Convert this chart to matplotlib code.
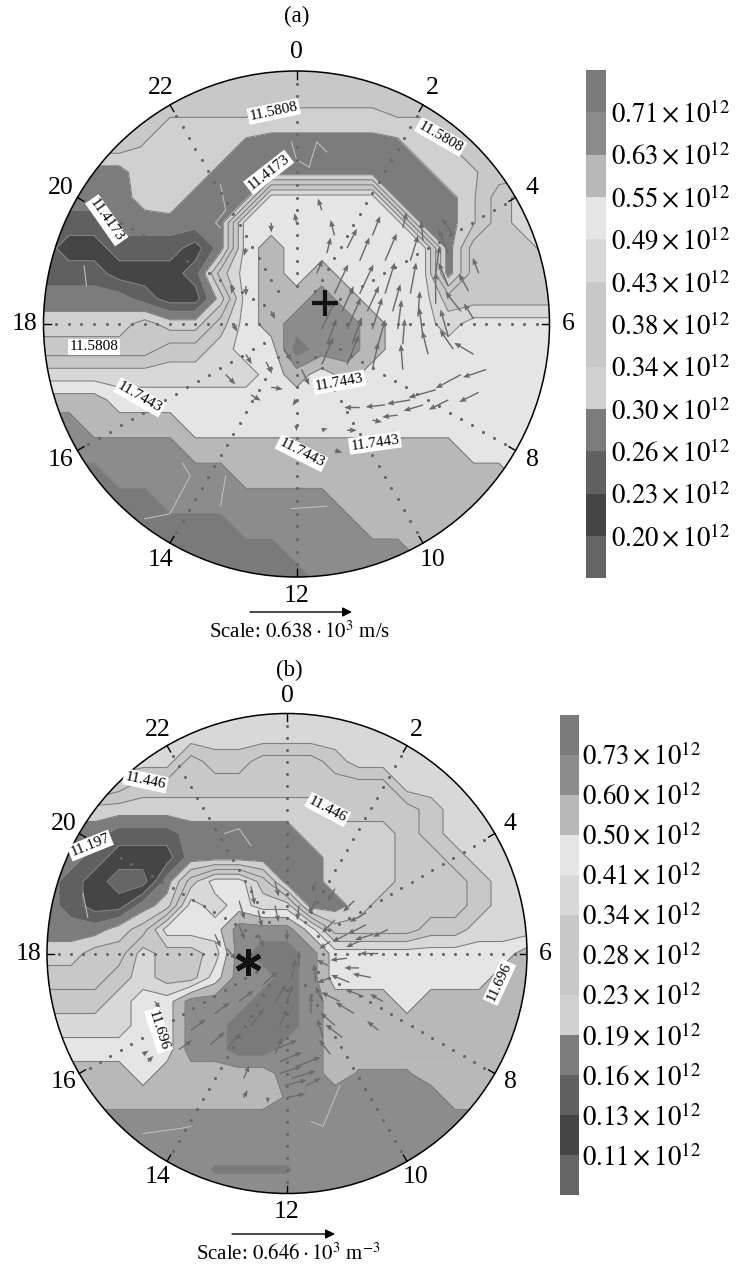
import numpy as np
import matplotlib
matplotlib.use('Agg')
import matplotlib.pyplot as plt
from matplotlib.patches import Circle
from matplotlib.colors import ListedColormap, BoundaryNorm

plt.rcParams['font.family'] = ['Liberation Serif', 'DejaVu Serif']
plt.rcParams['mathtext.fontset'] = 'stix'

hour_labels = [0, 2, 4, 6, 8, 10, 12, 14, 16, 18, 20, 22]
band_grays = [0x65, 0x45, 0x60, 0x7c, 0xd0, 0xc8, 0xc8, 0xd8, 0xe5, 0xb8, 0x8c, 0x7a]
cbar_a = ['0.20', '0.23', '0.26', '0.30', '0.34', '0.38', '0.43', '0.49', '0.55', '0.63', '0.71']
cbar_b = ['0.11', '0.13', '0.16', '0.19', '0.23', '0.28', '0.34', '0.41', '0.50', '0.60', '0.73']

# density band read per grid node (top row first), x and y from -1 to 1 in steps of 0.1
bands_a = [
    [5]*21, [5]*21,
    [5,5,5,5,5,4.4,4.4,4.4,4.4,3.9,3.9,3.9,3.9,3.9,4.4,4.4,5,5,5,5,5],
    [5,5,5,5,4.4,4.4,4.4,4.4,3,3,3,3,3,3,3,4.4,4.4,5,5,5,5],
    [3,3,3,3,4.4,4.4,4.4,3,3,3,3,3,3,3,3,3,4.4,4.4,5,5,5],
    [3,3,3,3,4,4.4,3,3,3,8,8,8,8,8,3,3,3,4.4,6,7,7],
    [2,2,2,3,3,3,3,3,8,8,8,8,8,8,8,3,3,4.4,6,7,7],
    [2,1,1,2,2,2,1,3,8,9,8,8,8,8,8,8,3,6,6,6,7],
    [2,2,2,1,1,1,2,6,8,9,8,9,8,8,8,8,3,6,6,6,6],
    [3,3,3,3,2,1,1,4,8,9,9,10,9,8,8,8,6,6,6,6,6],
    [4,4,4,4,5,4,4,6,8,9,10,10,10,9,8,8,7,8,8,8,8],
    [5,5,5,5,5,6,6,7,8,8,11,10,10,9,8,8,8,8,8,8,8],
    [7,7,7,7,7,7,7,7,7,8,9,8,9,8,8,8,8,8,8,8,8],
    [9,9,9,8,8,8,8,8,8,8,8,8,8,8,8,8,8,8,8,8,8],
    [10,10,9,9,9,9,8,8,8,8,8,8,8,8,8,8,8,8,8,8,8],
    [10,10,10,10,10,10,9,9,9,9,9,9,9,9,9,9,9,8,8,8,8],
    [11,11,11,10,10,10,10,10,9,9,9,9,9,9,9,9,9,9,9,8,8],
    [11,11,11,11,11,10,10,10,10,10,10,10,9,9,9,9,9,9,9,9,9],
    [11,11,11,11,11,11,11,11,10,10,10,10,10,9,9,9,9,9,9,9,9],
    [11,11,11,11,11,11,11,11,11,11,10,10,10,10,10,9,9,9,9,9,9],
    [11,11,11,11,11,11,11,11,11,11,11,10,10,10,10,10,9,9,9,9,9],
]
bands_b = [
    [7]*21, [7]*21,
    [7,7,7,7,7,7,5,6,6,5,5,5,6,7,7,7,7,7,7,7,7],
    [7,7,7,6,5,5,5,5,5,5,5,5,5,5,5,7,7,7,7,7,7],
    [4,4,4,4,4,4,4,4,4,4,4,4,5,5,5,5,6,7,7,7,7],
    [3,3,3,2,2,2,3,3,3,3,3,4,4,4,4,5,6,7,7,7,7],
    [3,3,2,1,1,1,3,3,3,3,3,3,4,4,4,5,5,6,7,7,7],
    [3,2,1,0,0,3,6,8,8,6,3,3,4,4,4,5,5,5,6,7,7],
    [3,2,1,1,3,4,8,7,8,7,7,3,3,4,5,5,5,5,6,7,7],
    [3,3,3,4,5,8,8,8,10,10,10,8,5,5,5,5,6,6,7,7,7],
    [4,4,5,5,7,6,6,7,10,11,11,10,8,8,8,8,8,8,8,8,9],
    [5,5,5,6,7,6,6,8,10,10,11,10,8,8,8,8,8,8,8,9,9],
    [6,6,6,7,8,8,10,10,10,11,11,10,9,9,9,8,9,9,9,9,9],
    [7,7,7,7,8,8,10,10,11,11,11,10,9,9,9,9,9,9,9,9,9],
    [8,8,8,8,8,8,10,10,11,11,10,10,9,9,9,9,9,9,9,9,9],
    [9,9,9,9,8,9,9,9,9,9,10,10,9,9.6,9.6,9.6,9,9,9,9,9],
    [9,9,9,9,9,9,9,9,9,9,9.6,10,10,10,10,10,10,9,9,9,9],
    [10]*21, [10]*21,
    [10,10,10,10,10,10,10,10.6,10.6,10.6,10.6,10,10,10,10,10,10,10,10,10,10],
    [10]*21,
]

# wind vectors: x, y, u, v in units of the plot radius
wind_a_x = [.25,.35,.45,.55,.15,.25,.35,.45,.55,.1,.2,.3,.4,.5,.6,.1,.2,.3,.42,.55,.45,.35,.65,.6,.1,.15,0,-.2,-.25,-.25,-.2,-.12,-.1,0,0,.1,.2,.6,.6,.65,.7,
            .3,.2,.12,.42,.5,.08,.18,.28,.38,.48,.12,.22,.32,.42,.52,.62,.7,.75,.72,.5,.4,.25,.68,.72,.62,-.1,-.2,-.1,-.05,.02,-.28,-.18,.15,.3]
wind_a_y = [.25,.25,.25,.2,.12,.12,.12,.12,.08,-.02,-.02,-.02,-.02,-.05,-.05,-.16,-.16,-.18,-.18,-.26,-.3,-.32,-.2,-.3,.45,.35,.4,.3,.15,0,-.12,-.15,-.25,-.3,-.4,-.42,-.42,.15,.28,.05,.02,
            .35,.3,.28,.38,.33,.2,.05,.05,.05,.03,-.08,-.08,-.09,-.08,-.12,-.1,-.12,-.18,-.27,-.32,-.36,-.33,.13,.2,.35,.4,.15,.05,-.1,-.18,-.2,-.28,-.5,-.38]
wind_a_u = [.05,.06,.04,.02,.07,.07,.05,.03,0,.07,.07,.05,.02,-.02,-.04,.06,.06,.03,-.01,-.14,-.12,-.1,-.13,-.1,-.02,-.02,-.01,-.01,-.01,.02,.03,.03,.06,-.02,0,.03,.05,-.05,-.05,-.08,-.05,
            .04,.05,.02,.02,-.01,.03,.06,.06,.04,.01,.05,.05,.04,.01,-.03,-.07,-.1,-.12,-.1,-.1,-.08,-.08,-.05,-.03,-.06,0,0,.02,.04,.04,.05,.05,.04,.05]
wind_a_v = [.12,.14,.13,.14,.15,.15,.16,.16,.16,.15,.16,.16,.15,.15,.14,.14,.15,.14,.13,-.04,-.02,-.01,-.07,-.05,.06,.08,.05,-.04,-.04,-.04,-.05,-.06,-.01,-.03,-.03,.01,0,.12,.12,.1,.08,
            .1,.1,.08,.08,.1,.07,.13,.13,.14,.13,.13,.14,.14,.13,.12,.1,.06,-.04,-.05,-.03,-.01,0,.09,.08,.09,-.05,-.05,-.04,-.06,-.08,-.05,-.03,-.01,-.01]
wind_b_x = [-.4,-.3,-.2,-.1,-.25,-.15,-.05,-.05,-.03,0,.02,-.05,-.03,-.03,-.01,.1,.12,.15,.2,.22,.26,.25,.25,.2,.12,.05,-.05,-.12,-.2,-.12,.3,.3,.33,.18,
            .12,.2,.28,.33,.36,.38,.35,.32,.28,.23,.18,.15,.17,.18,-.05,-.15,-.2,-.25,-.3,0,.05,.02,.04,0,.08,-.18,-.32,-.45,-.08,-.18,-.55,-.6,-.58,.42,.4,.38]
wind_b_y = [-.32,-.25,-.2,-.13,-.4,-.3,-.2,-.42,-.3,-.2,-.1,-.4,-.45,-.5,-.55,-.25,-.12,-.35,-.3,-.2,-.12,-.02,.08,.14,.22,.2,.2,.18,.12,.08,.05,-.06,.12,-.1,
            .3,.27,.22,.17,.08,0,-.1,-.18,-.25,-.35,-.42,-.2,-.05,.05,.3,.28,.22,.02,.08,.1,-.05,-.52,-.47,-.6,-.55,-.52,-.38,-.4,-.6,-.6,-.2,-.42,-.45,.1,-.2,-.32]
wind_b_u = [.08,.08,.08,.08,.07,.07,.06,.04,.04,.03,.02,.12,.12,.12,.12,0,-.01,-.03,-.08,-.1,-.1,-.09,-.08,-.07,-.04,-.01,.02,.02,.03,.03,-.07,-.08,-.1,-.07,
            -.02,-.04,-.06,-.09,-.1,-.1,-.1,-.1,-.1,-.09,-.06,-.04,-.06,-.06,.02,.02,.03,.05,.03,0,0,.13,.13,.1,.08,.03,.08,.07,0,.02,.03,.03,.03,-.08,-.07,-.06]
wind_b_v = [.06,.06,.06,.07,.09,.09,.09,.09,.09,.09,.1,.05,.05,.04,.03,.1,.1,.1,.07,.05,.04,-.01,-.04,-.07,-.07,-.08,-.09,-.09,-.08,-.07,-.03,0,-.05,-.03,
            -.06,-.07,-.06,-.05,-.03,0,.02,.04,.06,.07,.08,.08,.03,-.04,-.08,-.1,-.1,-.06,-.07,-.06,.08,.04,.05,.02,.04,.07,.07,.05,-.03,.04,-.04,.02,.03,-.04,.04,.05]

spoke_radii = [.15,.2,.25,.3,.35,.4,.45,.5,.55,.6,.65,.7,.75,.8,.85,.9,.95]

coast_a = [[(-.02,.72),(.0,.65),(.05,.62),(.08,.72),(.12,.68)], [(-.3,.55),(-.28,.45),(-.32,.4),(-.3,.38)],
           [(-.45,-.55),(-.42,-.6),(-.5,-.75),(-.6,-.77)], [(-.28,-.6),(-.3,-.72)], [(-.02,-.73),(.12,-.72)], [(-.84,.23),(-.83,.15)]]
coast_b = [[(-.26,.5),(-.2,.52),(-.15,.45)], [(.22,-.55),(.15,-.72),(.1,-.7)], [(-.6,-.75),(-.45,-.73),(-.4,-.72)], [(.45,-.45),(.7,-.45)], [(-.85,.25),(-.83,.15)]]

labels_a = [('11.5808',-.09,.84,12),('11.5808',.57,.74,-30),('11.4173',-.11,.60,38),('11.4173',-.75,.41,-55),
            ('11.5808',-.80,-.09,0),('11.7443',-.62,-.29,-30),('11.7443',.17,-.23,10),('11.7443',.02,-.51,-27),('11.7443',.31,-.47,8)]
labels_b = [('11.446',-.59,.72,-12),('11.446',.17,.60,-28),('11.197',-.82,.45,22),('11.696',-.535,-.32,-72),('11.696',.885,-.12,65)]

W, H = 737, 1269
fig = plt.figure(figsize=(W/100, H/100), dpi=100, facecolor='white')

def pix_axes(x0, y0, x1, y1):
    return fig.add_axes([x0/W, 1-y1/H, (x1-x0)/W, (y1-y0)/H])

colors = ['#%02x%02x%02x' % (g, g, g) for g in band_grays]
cmap = ListedColormap(colors)
norm = BoundaryNorm(np.arange(13), 12)

def panel(cx, cy, r, bands, wind, labels, coast):
    ax = pix_axes(cx-r, cy-r, cx+r, cy+r)
    ax.set_xlim(-1, 1); ax.set_ylim(-1, 1); ax.axis('off')
    axis_vals = np.linspace(-1, 1, 21)
    X, Y = np.meshgrid(axis_vals, axis_vals[::-1])
    Z = np.array(bands, float) + .5
    clip = Circle((0, 0), 1, transform=ax.transData)
    cf = ax.contourf(X, Y, Z, levels=np.arange(13), cmap=cmap, norm=norm)
    cl = ax.contour(X, Y, Z, levels=np.arange(1, 12), colors='#808080', linewidths=.8)
    cf.set_clip_path(clip); cl.set_clip_path(clip)
    for line in coast:
        ax.plot(*zip(*line), color='#bdbdbd', lw=.8, zorder=2)
    for h in hour_labels:
        t = np.deg2rad(90 - 15*h)
        c, s = np.cos(t), np.sin(t)
        rr = np.array(spoke_radii)
        ax.scatter(rr*c, rr*s, s=5, color='#666666', linewidths=0, zorder=3)
        ax.plot([.97*c, c], [.97*s, s], color='k', lw=1, zorder=5)
        ax.text(1.075*c, 1.075*s, str(h), ha='center', va='center', fontsize=18.5, clip_on=False)
    qv = ax.quiver(*wind, angles='xy', scale_units='xy', scale=1.3, color='#6a6a6a',
                   width=.0028, headwidth=4, headlength=5, zorder=4)
    qv.set_clip_path(clip)
    for txt, x, y, rot in labels:
        ax.text(x, y, txt, rotation=rot, rotation_mode='anchor', ha='center', va='center', fontsize=11, zorder=6,
                bbox=dict(facecolor='white', edgecolor='none', pad=1.2))
    ax.add_patch(Circle((0, 0), 1, fill=False, edgecolor='k', lw=1.1, zorder=5, clip_on=False))
    return ax

ax_a = panel(296.5, 324, 253, bands_a, (wind_a_x, wind_a_y, wind_a_u, wind_a_v), labels_a, coast_a)
ax_b = panel(287, 953.5, 240, bands_b, (wind_b_x, wind_b_y, wind_b_u, wind_b_v), labels_b, coast_b)
ax_a.plot([.113], [.082], marker='+', ms=19, mew=3, color='#111111', zorder=7)
ax_b.plot([-.162], [-.034], marker=(6, 2, 0), ms=19, mew=3.5, color='#111111', zorder=7)

def colorbar(x0, y0, x1, y1, labels, pad):
    ax = pix_axes(x0, y0, x1, y1)
    edges = np.arange(13)
    ax.pcolormesh([0, 1], edges, np.arange(12).reshape(-1, 1), cmap=cmap, norm=norm)
    ax.set_xticks([])
    ax.set_yticks(edges[1:-1])
    ax.yaxis.tick_right()
    ax.set_yticklabels([r'$%s \times 10^{12}$' % s for s in labels], fontsize=19.3)
    ax.tick_params(axis='y', length=0, pad=pad)
    for sp in ax.spines.values():
        sp.set_visible(False)

colorbar(586, 70, 606, 578.5, cbar_a, 3.5)
colorbar(559.5, 714.5, 579, 1195, cbar_b, 2)

page = fig.add_axes([0, 0, 1, 1], zorder=-1)
page.set_xlim(0, W); page.set_ylim(H, 0); page.axis('off')
page.text(297, 16, '(a)', ha='center', va='center', fontsize=16.5)
page.text(289, 670, '(b)', ha='center', va='center', fontsize=16.5)
page.text(300, 632, r'Scale: $0.638\cdot 10^3$ m/s', ha='center', va='center', fontsize=15)
page.text(288, 1254, r'Scale: $0.646\cdot 10^3$ m$^{-3}$', ha='center', va='center', fontsize=15)
for x0, x1, y in [(250, 352, 612), (232, 335, 1234)]:
    page.annotate('', xy=(x1, y), xytext=(x0, y),
                  arrowprops=dict(arrowstyle='-|>', color='k', lw=1, mutation_scale=14, shrinkA=0, shrinkB=0))

fig.savefig('out.png', dpi=100)
